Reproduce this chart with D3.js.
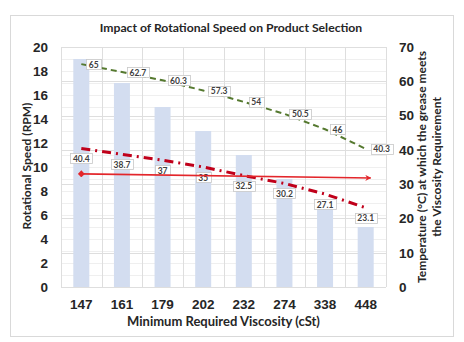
<!DOCTYPE html>
<html>
<head>
<meta charset="utf-8">
<script src="https://cdn.jsdelivr.net/npm/d3@7/dist/d3.min.js"></script>
<style>
  html, body { margin: 0; padding: 0; background: #fff; }
  svg { display: block; font-family: Lato, "Open Sans", sans-serif; }
</style>
</head>
<body>
<svg id="chart" width="464" height="342"></svg>
<script>
// Minimum required viscosity (cSt) per product
const viscosity = ["147", "161", "179", "202", "232", "274", "338", "448"];
// Rotational speed (RPM), left axis
const speedRPM = [19, 17, 15, 13, 11, 9, 7, 5];
// Temperature (°C) at which the grease meets the viscosity requirement, right axis
const tempUpper = [65, 62.7, 60.3, 57.3, 54, 50.5, 46, 40.3];
const tempLower = [40.4, 38.7, 37, 35, 32.5, 30.2, 27.1, 23.1];
// Reference arrow (°C) from first to last product
const arrowTemp = [33, 31.8];
const leftTicks = [0, 2, 4, 6, 8, 10, 12, 14, 16, 18, 20];
const rightTicks = [0, 10, 20, 30, 40, 50, 60, 70];

const svg = d3.select("#chart");
const plot = { left: 61, right: 386, top: 47, bottom: 287 };

const x = d3.scaleBand().domain(viscosity).range([plot.left, plot.right]);
const yL = d3.scaleLinear().domain([0, 20]).range([plot.bottom, plot.top]);
const yR = d3.scaleLinear().domain([0, 70]).range([plot.bottom, plot.top]);
const cx = d => x(d) + x.bandwidth() / 2;

// outer frame
svg.append("rect").attr("x", 10.5).attr("y", 15.5).attr("width", 443).attr("height", 321)
  .attr("fill", "#fff").attr("stroke", "#d9d9d9");

// gridlines: minor every RPM unit, major on right-axis ticks, vertical on category bounds
const grid = svg.append("g");
grid.selectAll(".minor").data(d3.range(0, 21)).join("line")
  .attr("x1", plot.left).attr("x2", plot.right)
  .attr("y1", d => Math.round(yL(d)) + 0.5).attr("y2", d => Math.round(yL(d)) + 0.5)
  .attr("stroke", "#efefef");
grid.selectAll(".major").data(rightTicks).join("line")
  .attr("x1", plot.left).attr("x2", plot.right)
  .attr("y1", d => Math.round(yR(d)) + 0.5).attr("y2", d => Math.round(yR(d)) + 0.5)
  .attr("stroke", "#dedede");
grid.selectAll(".vert").data(viscosity.concat(["end"])).join("line")
  .attr("x1", (d, i) => Math.round(plot.left + i * x.step()) + 0.5)
  .attr("x2", (d, i) => Math.round(plot.left + i * x.step()) + 0.5)
  .attr("y1", plot.top).attr("y2", plot.bottom)
  .attr("stroke", "#dedede");

// bars
const barW = 16;
svg.append("g").selectAll("rect").data(speedRPM).join("rect")
  .attr("x", (d, i) => cx(viscosity[i]) - barW / 2)
  .attr("y", d => yL(d))
  .attr("width", barW)
  .attr("height", d => yL(0) - yL(d))
  .attr("fill", "#d3ddf0");

// axes
const tickFont = g => g.selectAll("text")
  .attr("font-size", 13.5).attr("font-weight", "bold").attr("fill", "#262626");
svg.append("g").attr("transform", `translate(${plot.left},0)`)
  .call(d3.axisLeft(yL).tickValues(leftTicks).tickSize(0).tickPadding(13))
  .call(g => g.select(".domain").remove())
  .call(tickFont);
svg.append("g").attr("transform", `translate(${plot.right},0)`)
  .call(d3.axisRight(yR).tickValues(rightTicks).tickSize(0).tickPadding(13))
  .call(g => g.select(".domain").remove())
  .call(tickFont);
svg.append("g").attr("transform", `translate(0,${plot.bottom})`)
  .call(d3.axisBottom(x).tickSize(0).tickPadding(12))
  .call(g => g.select(".domain").remove())
  .call(tickFont);

// defs: arrow markers
const defs = svg.append("defs");
defs.append("marker").attr("id", "arrowEnd").attr("viewBox", "0 0 10 10")
  .attr("refX", 9).attr("refY", 5).attr("markerWidth", 6).attr("markerHeight", 6)
  .attr("orient", "auto").attr("markerUnits", "userSpaceOnUse")
  .append("path").attr("d", "M0,0 L10,5 L0,10 L3,5 Z").attr("fill", "#e3262b");
defs.append("marker").attr("id", "diamondStart").attr("viewBox", "0 0 10 10")
  .attr("refX", 5).attr("refY", 5).attr("markerWidth", 7).attr("markerHeight", 7)
  .attr("orient", "auto").attr("markerUnits", "userSpaceOnUse")
  .append("path").attr("d", "M5,0 L10,5 L5,10 L0,5 Z").attr("fill", "#e3262b");

const line = d3.line().x(d => d[0]).y(d => d[1]);

// upper temperature line (green dashed)
svg.append("path")
  .attr("d", line(tempUpper.map((v, i) => [cx(viscosity[i]), yR(v)])))
  .attr("fill", "none").attr("stroke", "#55792f").attr("stroke-width", 2)
  .attr("stroke-dasharray", "6,4");

// lower temperature line (red dash-dot)
svg.append("path")
  .attr("d", line(tempLower.map((v, i) => [cx(viscosity[i]), yR(v)])))
  .attr("fill", "none").attr("stroke", "#c0001a").attr("stroke-width", 3)
  .attr("stroke-dasharray", "9,5,2,5");

// data labels
function addLabel(px, py, text, mode) {
  const g = svg.append("g");
  const t = g.append("text").text(text)
    .attr("font-size", 8.5).attr("font-weight", "bold").attr("fill", "#404040")
    .attr("text-anchor", "middle").attr("dominant-baseline", "central");
  const bb = t.node().getBBox();
  const w = bb.width + 5, h = 10;
  let lx, ly;
  if (mode === "right") { lx = px + 5 + w / 2; ly = py; }
  else { lx = px; ly = py + 10; }
  t.attr("x", lx).attr("y", ly + 0.5);
  g.insert("rect", "text")
    .attr("x", Math.round(lx - w / 2) + 0.5).attr("y", Math.round(ly - h / 2) + 0.5)
    .attr("width", Math.round(w)).attr("height", h)
    .attr("fill", "#fff").attr("stroke", "#c8c8c8").attr("stroke-width", 0.8);
}
tempUpper.forEach((v, i) => addLabel(cx(viscosity[i]), yR(v), String(v), "right"));
tempLower.forEach((v, i) => addLabel(cx(viscosity[i]), yR(v), String(v), "below"));

// reference arrow
svg.append("line")
  .attr("x1", cx(viscosity[0])).attr("y1", yR(arrowTemp[0]))
  .attr("x2", cx(viscosity[viscosity.length - 1]) + 5).attr("y2", yR(arrowTemp[1]))
  .attr("stroke", "#e3262b").attr("stroke-width", 1.6)
  .attr("marker-start", "url(#diamondStart)").attr("marker-end", "url(#arrowEnd)");

// titles
svg.append("text").attr("x", 231).attr("y", 32).attr("text-anchor", "middle")
  .attr("font-size", 12.2).attr("font-weight", "bold").attr("fill", "#262626")
  .text("Impact of Rotational Speed on Product Selection");
svg.append("text").attr("x", (plot.left + plot.right) / 2).attr("y", 326).attr("text-anchor", "middle")
  .attr("font-size", 13).attr("font-weight", "bold").attr("fill", "#262626")
  .text("Minimum Required Viscosity (cSt)");
svg.append("text").attr("transform", `translate(31,${(plot.top + plot.bottom) / 2 - 1}) rotate(-90)`)
  .attr("text-anchor", "middle")
  .attr("font-size", 12).attr("font-weight", "bold").attr("fill", "#262626")
  .text("Rotational Speed (RPM)");
const rt = svg.append("text").attr("transform", `translate(426,${(plot.top + plot.bottom) / 2}) rotate(-90)`)
  .attr("text-anchor", "middle")
  .attr("font-size", 12).attr("font-weight", "bold").attr("fill", "#262626");
rt.append("tspan").attr("x", 0).attr("dy", 0).text("Temperature (°C) at which the grease meets");
rt.append("tspan").attr("x", 0).attr("dy", 15).text("the Viscosity Requirement");
</script>
</body>
</html>
